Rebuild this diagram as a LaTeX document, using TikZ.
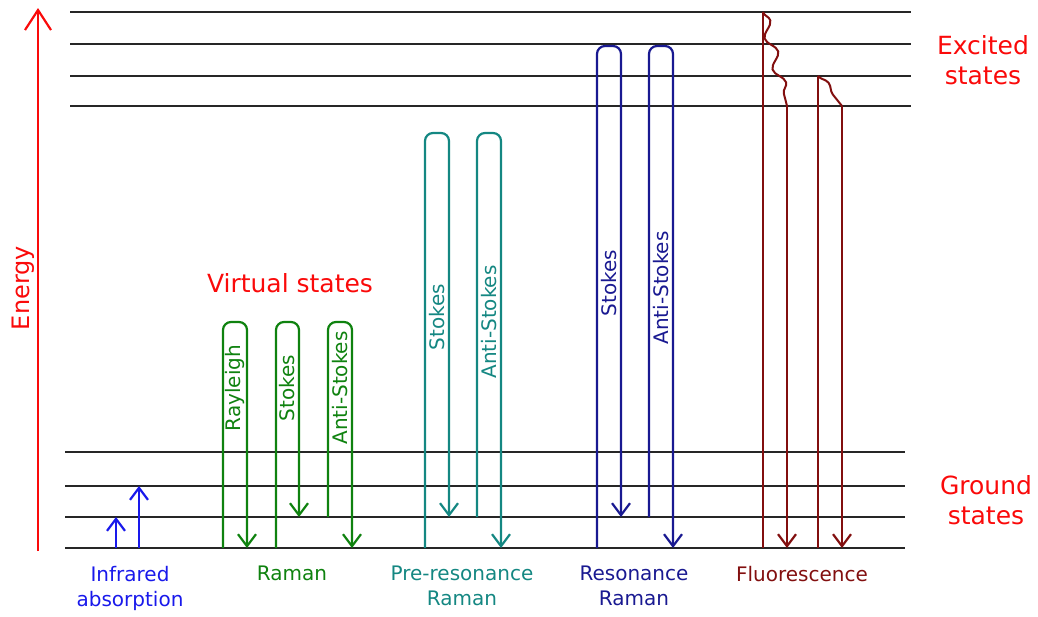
\documentclass[tikz,border=0pt]{standalone}
\usepackage{fontspec}
\setmainfont{DejaVu Sans}
\usetikzlibrary{arrows.meta,decorations.pathmorphing}
\definecolor{irblue}{RGB}{25,25,235}
\definecolor{ramgreen}{RGB}{15,130,15}
\definecolor{preteal}{RGB}{20,135,130}
\definecolor{resnavy}{RGB}{25,25,145}
\definecolor{fluored}{RGB}{130,15,15}
\definecolor{lblred}{RGB}{250,10,10}
\tikzset{
  level/.style={line width=2.3pt,black!85},
  barb/.style={-{Straight Barb[length=12pt,width=18pt]}},
  trans/.style={line width=2.2pt,rounded corners=8pt,barb},
  vlbl/.style={rotate=90,inner sep=0pt,font=\fontsize{20}{24}\selectfont},
  lbl/.style={align=center,inner sep=0pt,font=\fontsize{20}{25}\selectfont},
  statelbl/.style={align=center,inner sep=0pt,text=lblred,
                   font=\fontsize{25}{30}\selectfont},
}

\begin{document}
\begin{tikzpicture}[x=1pt,y=-1pt]
\useasboundingbox (0,0) rectangle (1038,616);

% energy axis
\draw[lblred,line width=2.2pt,-{Straight Barb[length=20pt,width=26pt]}] (38,551) -- (38,8);
\node[vlbl,text=lblred,font=\fontsize{24}{28}\selectfont] (energy) at (23,288) {Energy};

% excited and ground levels
\foreach \y in {12,44,76,106}
  \draw[level] (70,\y) -- (911,\y);
\foreach \y in {452,486,517,548}
  \draw[level] (65,\y) -- (905,\y);

% infrared absorption
\draw[trans,irblue] (116,548) -- (116,517);
\draw[trans,irblue] (139,548) -- (139,486);

% Raman through the virtual states
\foreach \xa/\ya/\xb/\yb/\name in {223/548/247/548/Rayleigh,
    276/548/299/517/Stokes,328/517/352/548/Anti-Stokes}{
  \draw[trans,ramgreen] (\xa,\ya) -- (\xa,322) -- (\xb,322) -- (\xb,\yb);
  \node[vlbl,text=ramgreen] at ({(\xa+\xb)/2},388) {\name};
}

% pre-resonance Raman
\foreach \xa/\ya/\xb/\yb/\yl/\name in {425/548/449/517/317/Stokes,
    477/517/501/548/322/Anti-Stokes}{
  \draw[trans,preteal] (\xa,\ya) -- (\xa,133) -- (\xb,133) -- (\xb,\yb);
  \node[vlbl,text=preteal] at ({(\xa+\xb)/2},\yl) {\name};
}

% resonance Raman
\foreach \xa/\ya/\xb/\yb/\yl/\name in {597/548/621/517/283/Stokes,
    649/517/673/548/288/Anti-Stokes}{
  \draw[trans,resnavy] (\xa,\ya) -- (\xa,46) -- (\xb,46) -- (\xb,\yb);
  \node[vlbl,text=resnavy] at ({(\xa+\xb)/2},\yl) {\name};
}

% fluorescence with relaxation
\draw[fluored,line width=2.2pt] (763,548) -- (763,12);
\draw[fluored,line width=2pt,decorate,
      decoration={snake,segment length=32pt,amplitude=5pt}] (763,12) -- (787,106);
\draw[trans,fluored] (787,106) -- (787,548);
\draw[fluored,line width=2.2pt] (818,548) -- (818,76);
\draw[fluored,line width=2pt,decorate,
      decoration={snake,segment length=38pt,amplitude=4pt}] (818,76) -- (842,106);
\draw[trans,fluored] (842,106) -- (842,548);

% labels
\node[statelbl] (virt) at (290,283) {Virtual states};
\node[statelbl] (exc) at (983,60) {Excited\\states};
\node[statelbl] (gnd) at (986,500) {Ground\\states};
\node[lbl,text=irblue,anchor=north] (ir) at (130,566) {Infrared\\absorption};
\node[lbl,text=ramgreen,anchor=north] (ram) at (292,566) {Raman};
\node[lbl,text=preteal,anchor=north] (pre) at (462,566) {Pre-resonance\\Raman};
\node[lbl,text=resnavy,anchor=north] (res) at (634,566) {Resonance\\Raman};
\node[lbl,text=fluored,anchor=north] (fl) at (802,566) {Fluorescence};
\end{tikzpicture}
\end{document}
